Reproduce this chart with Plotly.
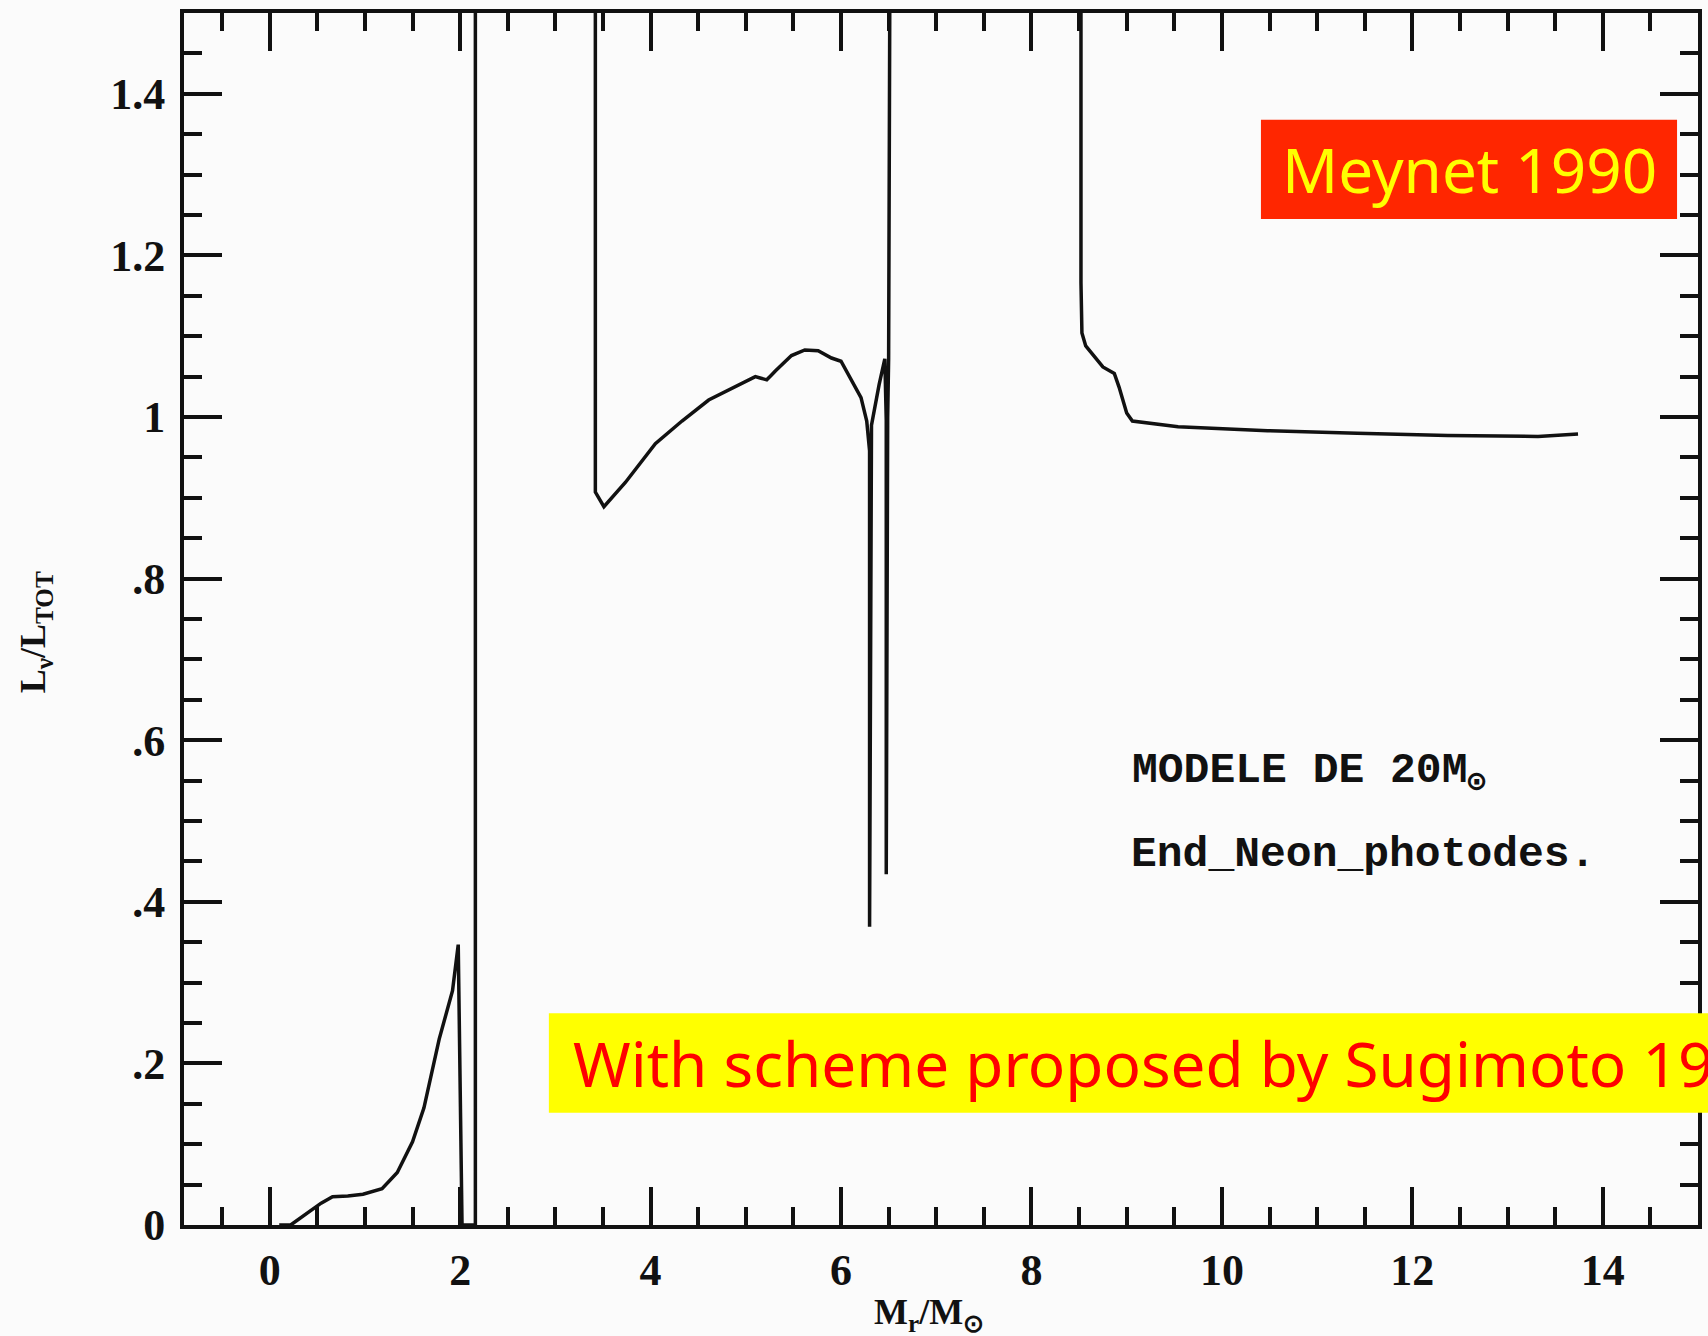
import plotly.graph_objects as go

# ---- data ----
mass = [0.10, 0.22, 0.54, 0.66, 0.82, 0.98, 1.18, 1.34, 1.50, 1.62, 1.78, 1.92, 1.98, 2.02,
        2.16, 2.16, 3.42, 3.42, 3.51, 3.735, 4.05, 4.33, 4.61, 4.85, 5.10, 5.16, 5.22, 5.27,
        5.31, 5.48, 5.62, 5.76, 5.90, 6.00, 6.07, 6.14, 6.21, 6.27, 6.30, 6.30, 6.32, 6.40,
        6.46, 6.475, 6.475, 6.49, 6.50, 6.52, 8.52, 8.52, 8.53, 8.57, 8.66, 8.75, 8.87, 8.92,
        9.00, 9.06, 9.54, 10.48, 11.42, 12.37, 13.32, 13.74]
lum_ratio = [0.0, 0.0, 0.027, 0.035, 0.036, 0.038, 0.045, 0.065, 0.103, 0.145, 0.230, 0.290,
             0.347, 0.0, 0.0, 1.8, 1.8, 0.907, 0.889, 0.919, 0.967, 0.995, 1.021, 1.035, 1.050,
             1.048, 1.046, 1.052, 1.057, 1.076, 1.083, 1.082, 1.073, 1.069, 1.054, 1.038, 1.024,
             0.995, 0.958, 0.369, 0.990, 1.040, 1.072, 0.996, 0.434, 1.000, 1.072, 1.8, 1.8,
             1.166, 1.104, 1.088, 1.075, 1.062, 1.054, 1.037, 1.005, 0.995, 0.988, 0.983, 0.980,
             0.977, 0.976, 0.979]

x_tickvals = [0, 2, 4, 6, 8, 10, 12, 14]
x_ticktext = ["0", "2", "4", "6", "8", "10", "12", "14"]
x_minor = [v * 0.5 for v in range(-1, 31) if v % 4 != 0]
y_tickvals = [0, 0.2, 0.4, 0.6, 0.8, 1.0, 1.2, 1.4]
y_ticktext = ["0", ".2", ".4", ".6", ".8", "1", "1.2", "1.4"]
y_minor = [round(v * 0.05, 2) for v in range(0, 31) if v % 4 != 0]

fig = go.Figure()
fig.add_trace(go.Scatter(x=mass, y=lum_ratio, mode="lines",
                         line=dict(color="#111111", width=3.5), hoverinfo="skip"))

tickfont = dict(family="Liberation Serif, serif", size=44, color="#111111", weight="bold")

fig.update_xaxes(range=[-0.9, 15], tickmode="array", tickvals=x_tickvals, ticktext=x_ticktext,
                 ticks="inside", ticklen=38, tickwidth=4, tickcolor="#111111",
                 showline=True, linewidth=4, linecolor="#111111", mirror="allticks",
                 showgrid=False, zeroline=False, tickfont=tickfont, ticklabelstandoff=3,
                 minor=dict(tickmode="array", tickvals=x_minor, ticks="inside", ticklen=18,
                            tickwidth=4, tickcolor="#111111", showgrid=False))
fig.update_yaxes(range=[0, 1.5], tickmode="array", tickvals=y_tickvals, ticktext=y_ticktext,
                 ticks="inside", ticklen=38, tickwidth=4, tickcolor="#111111",
                 showline=True, linewidth=4, linecolor="#111111", mirror="allticks",
                 showgrid=False, zeroline=False, tickfont=tickfont, ticklabelstandoff=6,
                 minor=dict(tickmode="array", tickvals=y_minor, ticks="inside", ticklen=18,
                            tickwidth=4, tickcolor="#111111", showgrid=False))

fig.add_shape(type="rect", xref="x", yref="y", x0=10.41, x1=14.78, y0=1.245, y1=1.368,
              fillcolor="#ff2600", line=dict(width=0), layer="above")
fig.add_shape(type="rect", xref="paper", yref="y", x0=0.241, x1=1.02, y0=0.139, y1=0.262,
              fillcolor="#ffff00", line=dict(width=0), layer="above")

fig.add_annotation(x=12.595, y=1.3065, xref="x", yref="y", text="Meynet 1990",
                   showarrow=False, xanchor="center", yanchor="middle",
                   font=dict(family="Noto Sans, sans-serif", size=62, color="#ffff00"))
fig.add_annotation(x=3.16, y=0.2, xref="x", yref="y",
                   text="With scheme proposed by Sugimoto 19",
                   showarrow=False, xanchor="left", yanchor="middle",
                   font=dict(family="Noto Sans, sans-serif", size=62, color="#ff0000"))
mono = dict(family="Liberation Mono, monospace", size=43, color="#111111", weight="bold")
fig.add_annotation(x=9.04, y=0.559, xref="x", yref="y", text="MODELE DE 20M<sub>⊙</sub>",
                   showarrow=False, xanchor="left", yanchor="middle", font=mono)
fig.add_annotation(x=9.02, y=0.458, xref="x", yref="y", text="End_Neon_photodes.",
                   showarrow=False, xanchor="left", yanchor="middle", font=mono)

labfont = dict(family="Liberation Serif, serif", size=36, color="#111111", weight="bold")
fig.add_annotation(x=-0.0975, y=0.734, xref="paper", yref="y",
                   text="L<sub>ν</sub>/L<sub>TOT</sub>", textangle=-90,
                   showarrow=False, xanchor="center", yanchor="middle", font=labfont)
fig.add_annotation(x=6.92, y=-0.074, xref="x", yref="paper",
                   text="M<sub>r</sub>/M<sub>⊙</sub>",
                   showarrow=False, xanchor="center", yanchor="middle", font=labfont)

fig.update_layout(width=1708, height=1336, margin=dict(l=184, r=6, t=13, b=111),
                  paper_bgcolor="#fbfbfb", plot_bgcolor="#fbfbfb", showlegend=False)

fig.write_html("out.html")
